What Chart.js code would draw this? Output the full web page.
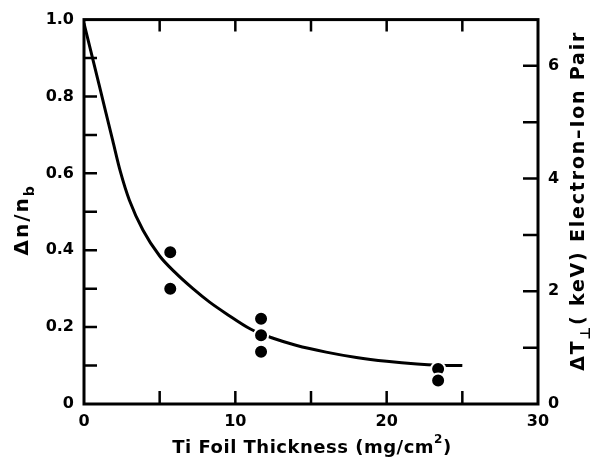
<!DOCTYPE html>
<html>
<head>
<meta charset="utf-8">
<script src="https://cdn.jsdelivr.net/npm/chart.js@4"></script>
<style>
  html, body { margin: 0; padding: 0; background: #fff; }
  #wrap { width: 593px; height: 469px; }
</style>
</head>
<body>
<div id="wrap"><canvas id="c" width="593" height="469"></canvas></div>
<script>
// measured points (Ti foil thickness mg/cm2, delta n / n_b)
const pointX = [5.7, 5.7, 11.7, 11.7, 11.7, 23.4, 23.4];
const pointY = [0.395, 0.30, 0.222, 0.179, 0.136, 0.091, 0.061];

// fitted curve
const curveX = [0, 1.0, 1.9, 2.4, 3.0, 3.9, 5.0, 6.0, 7.2, 8.3, 9.4, 11.0, 12.5, 14, 16, 18, 20, 22, 23.5, 25];
const curveY = [0.99, 0.83, 0.685, 0.605, 0.53, 0.452, 0.385, 0.343, 0.30, 0.265, 0.235, 0.195, 0.171, 0.153, 0.135, 0.121, 0.111, 0.104, 0.101, 0.10];

const xTicks = [0, 10, 20, 30];
const leftTicks = [0, 0.2, 0.4, 0.6, 0.8, 1.0];
const rightTicks = [0, 2, 4, 6];
const rightMax = 6.82;   // right axis value at the top of the frame

const FONT = "'DejaVu Sans', sans-serif";

const toXY = (xs, ys) => xs.map((x, i) => ({ x: x, y: ys[i] }));

// frame + inward tick marks + axis titles with sub/superscripts
const framePlugin = {
  id: 'frame',
  afterDatasetsDraw(chart) {
    const { ctx, chartArea: a, scales } = chart;
    ctx.save();
    ctx.strokeStyle = '#000';
    ctx.lineWidth = 3;
    ctx.strokeRect(a.left, a.top, a.right - a.left, a.bottom - a.top);

    ctx.lineWidth = 2.5;
    ctx.beginPath();
    scales.x.ticks.forEach(t => {
      const px = scales.x.getPixelForValue(t.value);
      if (t.value <= 0 || t.value >= 30) return;
      ctx.moveTo(px, a.bottom); ctx.lineTo(px, a.bottom - 13);
      ctx.moveTo(px, a.top); ctx.lineTo(px, a.top + 12);
    });
    scales.y.ticks.forEach(t => {
      const py = scales.y.getPixelForValue(t.value);
      if (t.value <= 0 || t.value >= 1) return;
      ctx.moveTo(a.left, py); ctx.lineTo(a.left + 13, py);
    });
    scales.y2.ticks.forEach(t => {
      const py = scales.y2.getPixelForValue(t.value);
      if (t.value <= 0) return;
      ctx.moveTo(a.right, py); ctx.lineTo(a.right - 15, py);
    });
    ctx.stroke();

    ctx.fillStyle = '#000';
    ctx.textBaseline = 'middle';

    // draws pieces [text, size, dy] in a row centred on 0,0
    const row = (parts, spacing) => {
      ctx.letterSpacing = spacing + 'px';
      let w = 0;
      parts.forEach(p => { ctx.font = 'bold ' + p[1] + 'px ' + FONT; w += ctx.measureText(p[0]).width; });
      let x = -w / 2;
      ctx.textAlign = 'left';
      parts.forEach(p => {
        ctx.font = 'bold ' + p[1] + 'px ' + FONT;
        ctx.fillText(p[0], x, p[2]);
        x += ctx.measureText(p[0]).width;
      });
      ctx.letterSpacing = '0px';
    };

    ctx.save();
    ctx.translate((a.left + a.right) / 2 + 1, a.bottom + 44);
    row([['Ti Foil Thickness (mg/cm', 18, 0], ['2', 12, -8], [')', 18, 0]], 0.5);
    ctx.restore();

    ctx.save();
    ctx.translate(a.left - 61, (a.top + a.bottom) / 2 + 8);
    ctx.rotate(-Math.PI / 2);
    row([['\u0394n/n', 20, 0], ['b', 14, 7]], 2);
    ctx.restore();

    ctx.save();
    ctx.translate(a.right + 41, (a.top + a.bottom) / 2 - 11);
    ctx.rotate(-Math.PI / 2);
    row([['\u0394T', 19, 0], ['\u22A5', 14, 7], ['( keV) Electron\u2013Ion Pair', 19, 0]], 1.8);
    ctx.restore();

    ctx.restore();
  }
};

new Chart(document.getElementById('c'), {
  type: 'scatter',
  data: {
    datasets: [
      {
        data: toXY(pointX, pointY),
        backgroundColor: '#000',
        borderColor: '#fff',
        borderWidth: 2,
        pointRadius: 7,
        order: 0
      },
      {
        data: toXY(curveX, curveY),
        showLine: true,
        borderColor: '#000',
        borderWidth: 3,
        pointRadius: 0,
        cubicInterpolationMode: 'monotone',
        order: 1
      }
    ]
  },
  options: {
    responsive: false,
    animation: false,
    layout: { padding: { top: 12, left: 0, right: 0, bottom: 0 } },
    plugins: { legend: { display: false }, tooltip: { enabled: false } },
    scales: {
      x: {
        type: 'linear', min: 0, max: 30,
        grid: { display: false, drawTicks: false },
        border: { display: false },
        ticks: {
          stepSize: 5, padding: 8, color: '#000', maxRotation: 0,
          font: { family: FONT, size: 16, weight: 'bold' },
          callback: v => xTicks.includes(v) ? String(v) : ''
        },
        afterFit: s => { s.height = 65; }
      },
      y: {
        type: 'linear', min: 0, max: 1,
        grid: { display: false, drawTicks: false },
        border: { display: false },
        ticks: {
          stepSize: 0.1, padding: 10, color: '#000',
          font: { family: FONT, size: 16, weight: 'bold' },
          callback: v => {
            const r = Math.round(v * 10) / 10;
            if (!leftTicks.some(t => Math.abs(t - r) < 1e-6)) return '';
            return r === 0 ? '0' : r.toFixed(1);
          }
        },
        afterFit: s => { s.width = 84; }
      },
      y2: {
        type: 'linear', position: 'right', min: 0, max: rightMax,
        grid: { display: false, drawTicks: false },
        border: { display: false },
        ticks: {
          stepSize: 1, padding: 10, color: '#000', includeBounds: false,
          font: { family: FONT, size: 16, weight: 'bold' },
          callback: v => rightTicks.includes(v) ? String(v) : ''
        },
        afterFit: s => { s.width = 55; }
      }
    }
  },
  plugins: [framePlugin]
});
</script>
</body>
</html>
